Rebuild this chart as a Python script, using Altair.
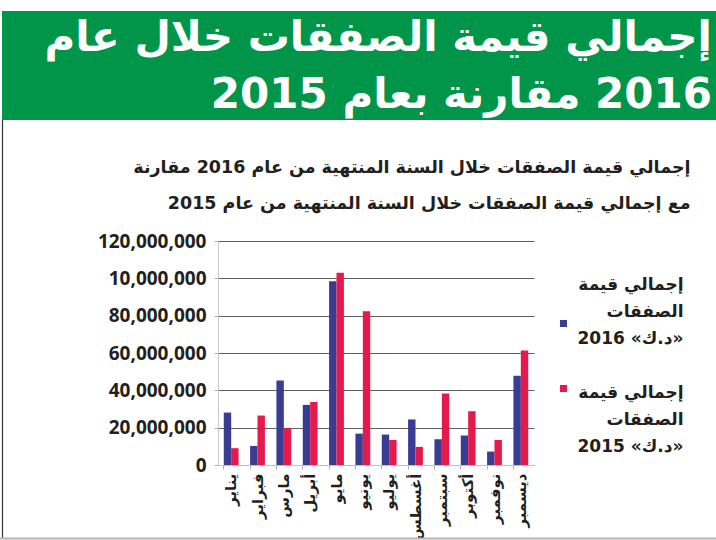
import altair as alt
import pandas as pd

# ---------------- data ----------------
months = ["يناير", "فبراير", "مارس", "أبريل", "مايو", "يونيو",
          "يوليو", "أغسطس", "سبتمبر", "أكتوبر", "نوفمبر", "ديسمبر"]
values_2016 = [28100000, 10200000, 45300000, 32200000, 98500000, 16800000,
               16300000, 24400000, 13800000, 15800000, 7200000, 47800000]
values_2015 = [9000000, 26500000, 19700000, 33800000, 103000000, 82400000,
               13400000, 9700000, 38300000, 28800000, 13400000, 61400000]
series = ["2016", "2015"]
series_colors = ["#3a3c94", "#e5194b"]

y_tick_values = [0, 20000000, 40000000, 60000000, 80000000, 100000000, 120000000]
y_tick_labels = ["0", "20,000,000", "40,000,000", "60,000,000",
                 "80,000,000", "10,000,000", "120,000,000"]

legend_lines = {
    "2016": ["إجمالي قيمة", "الصفقات", "«د.ك» 2016"],
    "2015": ["إجمالي قيمة", "الصفقات", "«د.ك» 2015"],
}
title_lines = ["إجمالي قيمة الصفقات خلال عام", "2016 مقارنة بعام 2015"]
subtitle_lines = ["إجمالي قيمة الصفقات خلال السنة المنتهية من عام 2016 مقارنة",
                  "مع إجمالي قيمة الصفقات خلال السنة المنتهية من عام 2015"]

RLE, PDF = "\u202b", "\u202c"
BLANK = "\u2800"


def rtl(s):
    return RLE + (s if s else BLANK) + PDF


rows = []
for m, a, b in zip(months, values_2016, values_2015):
    rows.append({"month": m, "series": series[0], "value": a})
    rows.append({"month": m, "series": series[1], "value": b})
df = pd.DataFrame(rows)

# ---------------- layout ----------------
W, H = 316, 224
PL, PT = 218, 241
PR, PB = 716 - PL - W, 540 - PT - H
AR = "DejaVu Sans"
INK = "#231f20"

# y label expression built from tick lists
ylab = "datum.label"
for v, l in zip(y_tick_values, y_tick_labels):
    ylab = f"datum.value == {v} ? '{l}' : ({ylab})"

# legend text block (drawn as a multi-line title next to the legend squares)
legend_text = [rtl(s) for s in legend_lines["2016"] + [""] + legend_lines["2015"]]

deco = pd.DataFrame({"k": [0]})

banner = alt.Chart(deco).mark_rect(color="#009548").encode(
    x=alt.value(2 - PL), x2=alt.value(716 - PL),
    y=alt.value(11 - PT), y2=alt.value(120 - PT),
)
left_line = alt.Chart(deco).mark_rule(color="#333333", strokeWidth=1.2).encode(
    x=alt.value(2.5 - PL), y=alt.value(120 - PT), y2=alt.value(538 - PT),
)
bottom_line = alt.Chart(deco).mark_rule(color="#b5b5b5", strokeWidth=2).encode(
    x=alt.value(0 - PL), x2=alt.value(716 - PL), y=alt.value(538.5 - PT),
)

bars = alt.Chart(df).mark_bar().encode(
    x=alt.X("month:N", sort=months,
            scale=alt.Scale(paddingInner=0.438, paddingOuter=0.219),
            axis=alt.Axis(labelAngle=270, labelFont=AR,
                          labelFontWeight="bold", labelFontSize=15,
                          labelColor=INK, labelPadding=4, bandPosition=0,
                          tickSize=4, tickColor="#b0b0b0", domainColor="#c0c0c0",
                          labelLimit=200,
                          title=legend_text, titleX=683 - PL, titleY=276 - PT - H,
                          titleAngle=0, titleAlign="right", titleBaseline="top",
                          titleFont=AR, titleFontWeight="bold", titleFontSize=17,
                          titleLineHeight=27, titleColor=INK, titleLimit=300)),
    xOffset=alt.XOffset("series:N", sort=series,
                        scale=alt.Scale(paddingInner=0, paddingOuter=0)),
    y=alt.Y("value:Q", scale=alt.Scale(domain=[0, 120000000], nice=False),
            axis=alt.Axis(values=y_tick_values, labelExpr=ylab,
                          labelFont="Open Sans", labelFontWeight="bold",
                          labelFontSize=19, labelColor=INK, labelPadding=8,
                          tickSize=4, tickColor="#b0b0b0", domainColor="#c8c8c8",
                          gridColor="#5f5f5f", gridWidth=1,
                          title=[rtl(s) for s in subtitle_lines],
                          titleX=690 - PL, titleY=158 - PT, titleAngle=0,
                          titleAlign="right", titleBaseline="top",
                          titleFont=AR, titleFontWeight="bold", titleFontSize=17.5,
                          titleLineHeight=36, titleColor=INK, titleLimit=700)),
    color=alt.Color("series:N", sort=series,
                    scale=alt.Scale(domain=series, range=series_colors),
                    legend=alt.Legend(title=None, orient="none",
                                      legendX=560 - PL, legendY=320 - PT,
                                      direction="vertical", padding=0,
                                      symbolType="square", symbolSize=49,
                                      symbolStrokeWidth=0, labelExpr="''",
                                      labelFontSize=1, rowPadding=58)),
)

chart = alt.layer(banner, left_line, bottom_line, bars).properties(
    width=W, height=H,
    autosize=alt.AutoSizeParams(type="none"),
    padding={"left": PL, "top": PT, "right": PR, "bottom": PB},
    title=alt.TitleParams(text=[rtl(s) for s in title_lines], anchor="end",
                          frame="group", dx=178, color="white", font=AR,
                          fontWeight="bold", fontSize=42, lineHeight=57,
                          baseline="top", offset=-106),
    background="white",
).configure_view(stroke=None)

chart.save("out.html", embed_options={"renderer": "svg", "actions": False})
